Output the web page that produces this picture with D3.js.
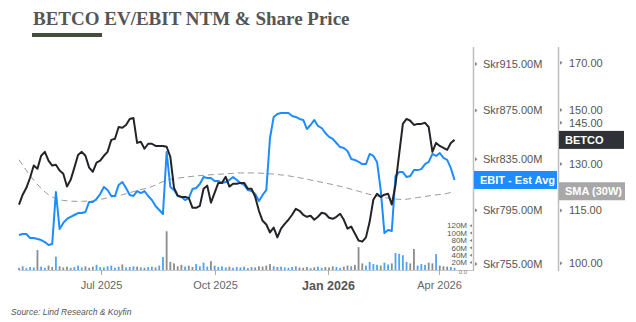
<!DOCTYPE html>
<html><head><meta charset="utf-8">
<script src="https://cdn.jsdelivr.net/npm/d3@7"></script>
<style>body{margin:0;background:#fff}svg{display:block}</style>
</head><body><svg id="c" width="636" height="322"></svg>
<script>
// ---- data ----
const startDate = "2025-04-25";   // first observation
const stepDays = 3;               // spacing of observations (days)
const smaStep = 4;                // SMA sampled every 4th observation
const priceValues = [
116.8,119.9,122.1,125.4,129.5,128.4,132.9,134.3,131.2,129.5,
129.8,127.8,126.7,122.5,124.7,128.8,133.2,134.3,132.9,128.8,
127.4,130.5,131.2,132.9,134.3,138.6,139.0,143.4,143.1,144.2,
146.5,146.9,137.5,137.9,135.4,137.2,137.2,136.4,136.4,136.4,
136.1,132.5,122.1,119.6,119.2,119.2,118.9,115.8,115.8,116.4,
121.8,122.8,117.4,120.5,123.7,123.7,125.7,122.5,123.4,123.4,
123.7,123.7,121.8,121.8,119.2,114.9,111.9,110.8,108.5,109.9,
107.1,109.6,111.0,112.2,113.7,115.5,114.9,113.7,113.1,113.4,
112.2,113.1,114.3,114.0,112.8,112.5,113.1,114.0,112.2,109.6,
110.2,108.2,106.2,105.9,107.1,111.6,118.3,120.2,119.2,119.9,
120.2,116.8,123.1,133.6,144.6,146.5,145.8,144.2,144.6,144.6,
145.0,143.4,134.3,137.5,136.4,135.7,135.0,137.5,138.6];
const ebitValues = [
776.3,777.1,777.1,774.1,774.1,773.4,772.6,771.1,768.9,769.7,
809.1,780.8,785.4,788.4,789.9,791.4,792.9,792.9,793.7,801.4,
801.4,803.7,807.5,813.0,810.6,806.0,806.0,814.6,816.9,812.2,
806.8,806.0,809.8,808.3,809.8,806.0,802.9,798.3,795.2,792.2,
840.8,813.0,810.6,806.0,805.2,802.9,804.4,811.4,812.2,815.3,
820.8,820.1,820.1,817.7,817.7,816.1,816.9,818.5,820.8,818.5,
816.1,814.6,810.6,809.8,807.5,802.1,806.8,810.6,852.2,869.6,
872.1,872.9,872.9,872.9,870.4,869.6,867.9,867.1,859.6,862.9,
867.1,862.1,860.4,856.3,853.1,851.4,848.1,844.8,844.0,841.6,
835.2,834.4,832.8,831.1,831.1,839.2,837.6,832.8,810.6,777.8,
780.1,779.3,821.6,824.7,824.7,820.8,821.6,826.3,826.3,827.1,
831.1,832.8,839.2,837.6,840.0,836.0,834.4,827.9,818.5];
const smaValues = [131.5,124.6,119.9,118.1,117.8,118.0,118.9,119.9,121.2,122.5,
124.6,125.4,126.0,126.4,126.7,127.0,127.0,126.7,126.2,125.4,124.4,123.4,122.3,
121.0,119.7,118.8,118.4,119.0,119.7,120.3,121.0];
const volumeValues = [
6,10,5,8,7,54,9,6,12,8,36,10,7,9,6,8,12,7,10,6,
9,14,8,7,10,12,6,9,15,7,8,10,9,7,6,8,9,7,12,35,
105,22,18,10,14,9,12,8,16,10,20,9,24,12,8,10,7,9,6,8,
7,9,5,8,7,10,9,12,16,10,8,9,7,6,8,10,7,6,8,5,
7,9,6,8,7,10,8,6,9,12,10,14,62,18,12,22,16,14,12,20,
15,18,46,44,40,22,18,57,12,16,14,20,18,43,12,10,9,8,6];
const priceTicks = [100,115,130,145,150,170];
const ebitTicks = [755,795,835,875,915];
const volumeTicks = [20,40,60,80,100,120];
const dateTicks = ["2025-07-01","2025-10-01","2026-01-01","2026-04-01"];
const dateTickLabels = ["Jul 2025","Oct 2025","Jan 2026","Apr 2026"];
const domainDates = ["2025-04-25","2026-04-29"];

// ---- build ----
const parse = d3.timeParse("%Y-%m-%d");
const t0 = parse(startDate);
const dates = priceValues.map((_, i) => d3.timeDay.offset(t0, i * stepDays));
const svg = d3.select("#c");
const FONT = "'Liberation Sans', Arial, sans-serif";

const x = d3.scaleTime().domain(domainDates.map(parse)).range([19, 473]);
const yP = d3.scaleLog().domain([100, 170]).range([263.3, 62.7]);
const yE = d3.scaleLog().domain([755, 915]).range([264, 64]);
const yV = d3.scaleLinear().domain([0, 120]).range([270, 225.7]);

// title
svg.append("text").attr("x", 33).attr("y", 25)
  .attr("font-family", "'Liberation Serif', 'DejaVu Serif', serif")
  .attr("font-weight", "bold").attr("font-size", 19).attr("fill", "#555")
  .text("BETCO EV/EBIT NTM & Share Price");
svg.append("rect").attr("x", 32).attr("y", 33).attr("width", 70).attr("height", 4).attr("fill", "#454d3b");

// source
svg.append("text").attr("x", 11).attr("y", 315)
  .attr("font-family", FONT).attr("font-style", "italic").attr("font-size", 8.5).attr("fill", "#555")
  .text("Source: Lind Research & Koyfin");

// volume bars
svg.append("g").selectAll("rect").data(volumeValues).join("rect")
  .attr("x", (d, i) => x(dates[i]) - 0.9).attr("width", 1.8)
  .attr("y", d => yV(d)).attr("height", d => yV(0) - yV(d))
  .attr("fill", (d, i) => (i > 0 && priceValues[i] >= priceValues[i - 1]) ? "#4fa3f5" : "#8c8c8c");

// SMA dashed
const smaDates = smaValues.map((_, k) => dates[Math.min(k * smaStep, dates.length - 1)]);
svg.append("path").datum(smaValues)
  .attr("d", d3.line().x((d, k) => x(smaDates[k])).y(d => yP(d)).curve(d3.curveMonotoneX))
  .attr("fill", "none").attr("stroke", "#9a9a9a").attr("stroke-width", 1).attr("stroke-dasharray", "6,4");

// EBIT line
svg.append("path").datum(ebitValues)
  .attr("d", d3.line().x((d, i) => x(dates[i])).y(d => yE(d)))
  .attr("fill", "none").attr("stroke", "#1e8cff").attr("stroke-width", 2).attr("stroke-linejoin", "round");

// price line
svg.append("path").datum(priceValues)
  .attr("d", d3.line().x((d, i) => x(dates[i])).y(d => yP(d)))
  .attr("fill", "none").attr("stroke", "#222428").attr("stroke-width", 2).attr("stroke-linejoin", "round");

// x axis
svg.append("line").attr("x1", 19).attr("x2", 473).attr("y1", 270.5).attr("y2", 270.5).attr("stroke", "#c8c8c8");
dateTicks.forEach((s, i) => {
  const xx = Math.round(x(parse(s))) + 0.5;
  svg.append("line").attr("x1", xx).attr("x2", xx).attr("y1", 270).attr("y2", 275).attr("stroke", "#aaa");
  const isJan = s.endsWith("01-01");
  svg.append("text").attr("x", xx).attr("y", isJan ? 290 : 289).attr("text-anchor", "middle")
    .attr("font-family", FONT).attr("font-size", isJan ? 12.5 : 11)
    .attr("font-weight", isJan ? "bold" : "normal").attr("fill", isJan ? "#555" : "#666")
    .text(dateTickLabels[i]);
});

// vertical axis lines
[473.5, 558.5].forEach(ax => svg.append("line").attr("x1", ax).attr("x2", ax).attr("y1", 47).attr("y2", 271)
  .attr("stroke", "#bdbdbd").attr("stroke-width", 1.5));

function arrow(xx, yy) {
  svg.append("path").attr("d", `M${xx},${yy - 2}L${xx + 2.5},${yy}L${xx},${yy + 2}Z`).attr("fill", "#888");
}
// EBIT axis
ebitTicks.forEach(t => {
  const yy = yE(t);
  arrow(475, yy);
  svg.append("text").attr("x", 483).attr("y", yy).attr("dy", "0.36em")
    .attr("font-family", FONT).attr("font-size", 11).attr("fill", "#555")
    .text("Skr" + d3.format(".2f")(t) + "M");
});
// price axis
priceTicks.forEach(t => {
  const yy = yP(t);
  arrow(560, yy);
  svg.append("text").attr("x", 569).attr("y", yy).attr("dy", "0.36em")
    .attr("font-family", FONT).attr("font-size", 11).attr("fill", "#555")
    .text(d3.format(".2f")(t));
});
// volume axis
volumeTicks.forEach(t => {
  const yy = yV(t);
  svg.append("path").attr("d", `M${472},${yy - 1.5}L${469.5},${yy}L${472},${yy + 1.5}Z`).attr("fill", "#888");
  svg.append("text").attr("x", 467).attr("y", yy).attr("dy", "0.34em").attr("text-anchor", "end")
    .attr("font-family", FONT).attr("font-size", 8).attr("fill", "#555")
    .text(t + "M");
});
svg.append("text").attr("x", 467).attr("y", yV(0) + 3.5).attr("text-anchor", "end")
  .attr("font-family", FONT).attr("font-size", 6).attr("fill", "#777").text("0.0");

// last-value labels
function tag(x0, w, yc, fill, label) {
  svg.append("rect").attr("x", x0).attr("y", yc - 9).attr("width", w).attr("height", 18).attr("fill", fill);
  svg.append("text").attr("x", x0 + 6).attr("y", yc).attr("dy", "0.36em")
    .attr("font-family", FONT).attr("font-weight", "bold").attr("font-size", 11).attr("fill", "#fff").text(label);
}
tag(474, 83, yE(ebitValues[ebitValues.length - 1]), "#1e8cff", "EBIT - Est Avg");
tag(559, 65, yP(priceValues[priceValues.length - 1]), "#2e3136", "BETCO");
tag(559, 66, yP(smaValues[smaValues.length - 1]), "#a8a8a8", "SMA (30W)");
</script></body></html>
